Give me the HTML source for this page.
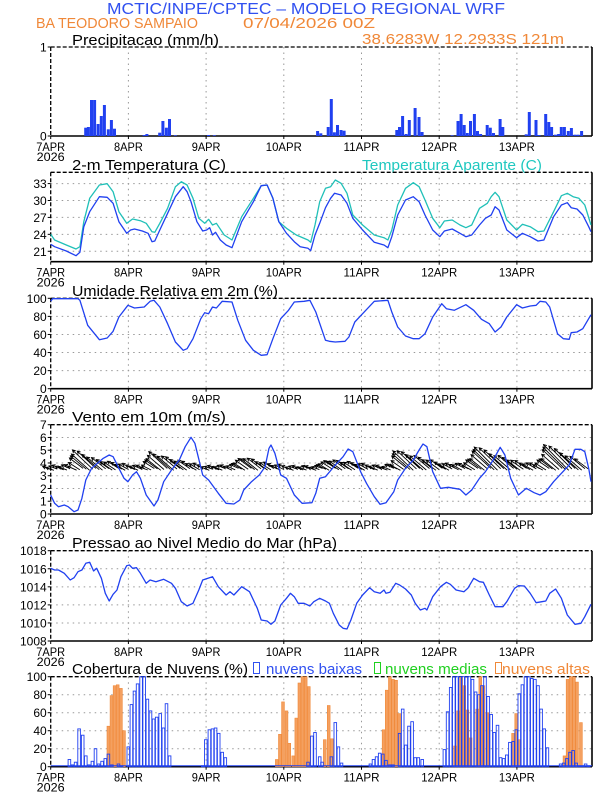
<!DOCTYPE html>
<html><head><meta charset="utf-8"><style>
html,body{margin:0;padding:0;background:#fff}
svg{display:block}
text{font-family:"Liberation Sans",sans-serif}
</style></head><body>
<svg id="s" width="612" height="792" xmlns="http://www.w3.org/2000/svg">
<text x="107" y="14" font-size="16" fill="#3050f0" textLength="398" lengthAdjust="spacingAndGlyphs">MCTIC/INPE/CPTEC – MODELO REGIONAL WRF</text>
<text x="36" y="28" font-size="15" fill="#f08838" textLength="162" lengthAdjust="spacingAndGlyphs">BA TEODORO SAMPAIO</text>
<text x="243" y="28" font-size="15" fill="#f08838" textLength="132" lengthAdjust="spacingAndGlyphs">07/04/2026 00Z</text>
<text x="72" y="45" font-size="15" fill="#000" textLength="147" lengthAdjust="spacingAndGlyphs">Precipitacao (mm/h)</text>
<text x="362" y="44" font-size="15" fill="#f08838" textLength="202" lengthAdjust="spacingAndGlyphs">38.6283W 12.2933S 121m</text>
<text x="72" y="170" font-size="15" fill="#000" textLength="154" lengthAdjust="spacingAndGlyphs">2-m Temperatura (C)</text>
<text x="362" y="170" font-size="15" fill="#20c8c0" textLength="180" lengthAdjust="spacingAndGlyphs">Temperatura Aparente (C)</text>
<text x="72" y="296" font-size="15" fill="#000" textLength="206" lengthAdjust="spacingAndGlyphs">Umidade Relativa em 2m (%)</text>
<text x="72" y="422" font-size="15" fill="#000" textLength="154" lengthAdjust="spacingAndGlyphs">Vento em 10m (m/s)</text>
<text x="72" y="548" font-size="15" fill="#000" textLength="265" lengthAdjust="spacingAndGlyphs">Pressao ao Nivel Medio do Mar (hPa)</text>
<text x="72" y="674" font-size="15" fill="#000" textLength="176" lengthAdjust="spacingAndGlyphs">Cobertura de Nuvens (%)</text>
<rect x="253.5" y="662.5" width="6" height="11" fill="none" stroke="#3050f0"/>
<text x="266" y="674" font-size="15" fill="#3050f0" textLength="96" lengthAdjust="spacingAndGlyphs">nuvens baixas</text>
<rect x="374.5" y="662.5" width="6" height="11" fill="none" stroke="#20d020"/>
<text x="385" y="674" font-size="15" fill="#20d020" textLength="102" lengthAdjust="spacingAndGlyphs">nuvens medias</text>
<rect x="495.5" y="662.5" width="6" height="11" fill="none" stroke="#f08838"/>
<text x="502" y="674" font-size="15" fill="#f08838" textLength="88" lengthAdjust="spacingAndGlyphs">nuvens altas</text>
</svg>
<script>
var S=document.getElementById('s'),NS='http://www.w3.org/2000/svg';
function el(t,a,txt){var e=document.createElementNS(NS,t);for(var k in a)e.setAttribute(k,a[k]);if(txt!=null)e.textContent=txt;S.appendChild(e);return e;}
var X0=50.7,X1=592,DAY=77.7,F=2.565;
var days=['7APR','8APR','9APR','10APR','11APR','12APR','13APR'];
function panel(top,bot,vmin,vmax,ticks,fmt){
  var sc=function(v){return bot-(v-vmin)/(vmax-vmin)*(bot-top);};
  for(var i=1;i<7;i++){var x=X0+i*DAY;el('line',{x1:x,y1:top,x2:x,y2:bot,stroke:'#999','stroke-dasharray':'1.5,4'});}
  ticks.forEach(function(v){var y=sc(v);
    if(v!=vmin&&v!=vmax)el('line',{x1:X0,y1:y,x2:X1,y2:y,stroke:'#999','stroke-dasharray':'1.5,4'});
    el('line',{x1:X0-3,y1:y,x2:X0,y2:y,stroke:'#000'});
    el('text',{x:X0-4,y:y+4.5,'font-size':12,'text-anchor':'end'},fmt?fmt(v):v);});
  el('line',{x1:X0,y1:top,x2:X1,y2:top,stroke:'#000','stroke-width':1.3,'stroke-dasharray':'4,2'});
  el('line',{x1:X0,y1:top,x2:X0,y2:bot,stroke:'#000','stroke-width':1.3,'stroke-dasharray':'4,2'});
  el('line',{x1:X1,y1:top,x2:X1,y2:bot,stroke:'#000','stroke-width':1.6});
  el('line',{x1:X0,y1:bot,x2:X1,y2:bot,stroke:'#000','stroke-width':1.6});
  for(var i=0;i<7;i++){var x=X0+i*DAY;el('line',{x1:x,y1:bot,x2:x,y2:bot+3,stroke:'#000'});
    el('text',{x:x,y:bot+15,'font-size':12,'text-anchor':'middle',textLength:days[i].length*7.2,lengthAdjust:'spacingAndGlyphs'},days[i]);}
  el('text',{x:X0,y:bot+25,'font-size':12,'text-anchor':'middle',textLength:28,lengthAdjust:'spacingAndGlyphs'},'2026');
}
function line(pts,off,col,w){var d='';pts.forEach(function(p,i){d+=(i?'L':'M')+(p[0]/F).toFixed(1)+' '+(off+p[1]/3).toFixed(1);});
  el('path',{d:d,fill:'none',stroke:col,'stroke-width':w||1.3,'stroke-linejoin':'round'});}
panel(47,136,0,1,[0,1]);
panel(172.3,261.7,19.15,35,[21,24,27,30,33]);
panel(298.3,388.7,0,100,[0,20,40,60,80,100]);
panel(424.7,514,0,7,[0,1,2,3,4,5,6,7]);
panel(550.7,641,1008,1018,[1008,1010,1012,1014,1016,1018]);
panel(676.7,766.7,0,100,[0,20,40,60,80,100]);
var pr=[[220,383],[227,381],[235,300],[243,300],[252,372],[260,348],[268,315],[278,388],[286,360],[294,386],[370,405],[377,402],[410,398],[418,363],[427,383],[435,357],[450,406],[535,405],[550,406],[815,393],[823,400],[842,381],[850,297],[858,397],[866,375],[875,390],[883,392],[1018,390],[1025,381],[1033,348],[1042,402],[1050,360],[1065,324],[1075,351],[1083,396],[1160,406],[1175,363],[1183,342],[1191,375],[1199,399],[1207,363],[1217,342],[1225,393],[1233,402],[1250,375],[1258,383],[1266,399],[1283,357],[1290,381],[1350,403],[1358,336],[1375,360],[1383,405],[1400,342],[1408,366],[1415,381],[1425,404],[1433,402],[1440,381],[1448,381],[1458,393],[1466,384],[1475,404],[1483,404],[1492,393]];
pr.forEach(function(p){var x=p[0]/F-1.6,y=p[1]/3;el('rect',{x:x.toFixed(1),y:y.toFixed(1),width:3,height:(136-y).toFixed(1),fill:'#2040f0'});});
line([[130,238],[140,255],[170,270],[195,282],[205,275],[215,200],[230,130],[255,90],[275,86],[290,110],[305,170],[325,205],[340,192],[360,197],[375,205],[390,230],[397,232],[410,205],[430,160],[450,95],[465,80],[480,90],[495,130],[510,190],[525,205],[535,193],[545,210],[555,205],[575,240],[595,255],[620,185],[650,130],[670,92],[685,90],[700,130],[715,200],[735,220],[760,240],[790,255],[797,262],[808,210],[820,140],[835,100],[848,95],[860,75],[875,85],[890,115],[905,180],[930,210],[960,240],[985,248],[995,255],[1005,225],[1020,150],[1040,100],[1060,83],[1075,95],[1090,135],[1110,190],[1128,218],[1140,198],[1160,195],[1180,210],[1195,218],[1210,210],[1230,160],[1250,145],[1260,125],[1270,112],[1280,125],[1300,195],[1325,225],[1340,208],[1360,215],[1380,230],[1395,228],[1420,170],[1440,122],[1455,115],[1470,125],[1485,130],[1500,150],[1516,210]],155,'#20c0b8');
line([[130,268],[140,275],[170,288],[195,302],[205,292],[215,215],[230,170],[255,125],[275,127],[290,145],[305,200],[325,235],[335,225],[345,222],[365,228],[380,235],[390,260],[397,258],[410,225],[430,175],[450,125],[470,95],[480,110],[490,140],[505,200],[520,228],[530,225],[538,218],[545,240],[553,232],[565,255],[580,270],[595,278],[620,200],[650,140],[670,92],[685,90],[700,130],[715,200],[735,235],[755,260],[770,275],[790,280],[797,287],[808,240],[820,205],[835,158],[848,130],[858,115],[875,120],[890,145],[905,190],[930,225],[960,262],[985,270],[995,278],[1005,245],[1020,180],[1040,135],[1060,125],[1075,140],[1090,180],[1110,225],[1128,245],[1140,228],[1160,222],[1180,235],[1195,245],[1210,240],[1230,210],[1245,190],[1260,180],[1270,155],[1280,165],[1300,225],[1325,248],[1340,235],[1360,245],[1380,258],[1395,255],[1420,185],[1440,150],[1455,143],[1465,158],[1480,162],[1495,180],[1510,215],[1516,230]],155,'#2040f0');
line([[130,58],[135,50],[200,50],[205,55],[225,130],[255,173],[275,168],[290,148],[305,105],[328,70],[345,78],[370,75],[385,58],[395,55],[410,75],[430,125],[450,180],[470,205],[480,200],[495,170],[515,110],[525,92],[535,95],[545,75],[555,78],[570,58],[595,60],[610,115],[630,175],[650,205],[670,220],[685,218],[700,170],[720,110],[740,85],[755,60],[780,58],[795,55],[810,90],[835,175],[845,178],[860,180],[885,178],[895,165],[910,120],[930,95],[960,58],[995,55],[1005,90],[1020,135],[1040,162],[1060,170],[1075,170],[1090,155],[1110,105],[1133,65],[1145,80],[1165,85],[1195,68],[1215,85],[1235,112],[1255,125],[1270,150],[1285,135],[1300,105],[1325,68],[1340,78],[1360,72],[1375,70],[1385,58],[1400,60],[1410,75],[1430,155],[1445,170],[1460,172],[1465,152],[1480,150],[1495,140],[1516,98]],282,'#2040f0');
(function(){
 var env=[[0,0.1],[8,0.2],[10,0.7],[13,1.4],[18,0.6],[24,0.3],[30,0.1],[33,0.6],[36,1.2],[42,0.6],[50,0.1],[58,0.2],[61,0.6],[64,0.8],[70,0.3],[76,0.1],[84,0.1],[86,0.4],[90,0.6],[96,0.4],[101,0.2],[104,0.1],[108,0.3],[112,1.4],[118,0.8],[124,0.3],[130,0.3],[134,0.8],[138,1.7],[142,1.0],[148,0.4],[152,0.3],[156,0.8],[160,1.9],[164,1.0],[167,0.5]];
 function amp(h){for(var i=1;i<env.length;i++){if(h<=env[i][0]){var a=env[i-1],b=env[i];return a[1]+(b[1]-a[1])*(h-a[0])/(b[0]-a[0]);}}return 0.5;}
 var upu=(514-424.7)/7, d='';
 for(var h=0;h<167;h+=1){
   var x=X0+h*DAY/24, base=514-3.5*upu+Math.sin(h*1.7)*1.0;
   var a=amp(h)*upu, ty=base-a-1.5, tx=x-(a*0.75+7);
   d+='M'+x.toFixed(1)+' '+base.toFixed(1)+'L'+tx.toFixed(1)+' '+ty.toFixed(1);
   var a2=Math.atan2(ty-base,tx-x);
   d+='M'+(tx-3.5*Math.cos(a2-0.5)).toFixed(1)+' '+(ty-3.5*Math.sin(a2-0.5)).toFixed(1)+'L'+tx.toFixed(1)+' '+ty.toFixed(1)+'L'+(tx-3.5*Math.cos(a2+0.5)).toFixed(1)+' '+(ty-3.5*Math.sin(a2+0.5)).toFixed(1);
 }
 el('path',{d:d,fill:'none',stroke:'#000','stroke-width':0.9});
})();
line([[130,255],[140,280],[150,290],[165,285],[175,290],[190,305],[200,300],[210,265],[220,210],[235,175],[250,160],[265,145],[280,135],[290,140],[305,175],[318,205],[328,215],[340,195],[350,185],[360,205],[375,255],[395,288],[405,270],[420,215],[440,180],[460,150],[475,110],[490,82],[500,100],[520,195],[535,210],[560,250],[580,280],[600,282],[615,270],[625,240],[645,215],[665,195],[680,170],[690,115],[695,105],[705,130],[720,195],[735,205],[755,255],[775,280],[800,278],[810,250],[820,205],[835,200],[860,165],[880,140],[893,117],[905,125],[925,185],[940,220],[960,260],[975,283],[990,278],[1000,262],[1010,245],[1020,210],[1040,175],[1060,150],[1075,120],[1085,102],[1095,110],[1110,185],[1130,235],[1150,232],[1180,238],[1195,255],[1210,240],[1230,205],[1245,185],[1265,150],[1283,112],[1295,135],[1310,205],[1330,255],[1350,235],[1370,248],[1385,255],[1400,245],[1420,215],[1440,190],[1460,165],[1475,118],[1490,118],[1500,125],[1510,175],[1516,215]],410,'#2040f0');
line([[130,100],[140,105],[150,105],[165,115],[180,135],[190,128],[200,110],[210,105],[220,85],[230,82],[240,108],[248,100],[260,130],[270,175],[280,198],[290,178],[300,165],[310,125],[325,92],[332,90],[340,100],[350,98],[360,115],[375,145],[385,135],[400,140],[420,133],[440,145],[450,160],[465,200],[480,213],[495,205],[510,165],[520,135],[545,125],[560,155],[580,180],[590,170],[600,180],[620,155],[640,170],[660,220],[670,255],[685,258],[695,268],[705,258],[720,210],[735,190],[745,175],[755,185],[765,205],[780,205],[795,213],[805,200],[820,190],[835,198],[845,205],[855,235],[870,270],[880,280],[890,282],[900,255],[915,205],[930,180],[948,158],[960,170],[975,175],[985,165],[990,175],[1000,172],[1015,145],[1025,150],[1040,162],[1055,180],[1065,205],[1078,225],[1090,220],[1095,225],[1110,185],[1130,155],[1145,142],[1155,148],[1170,165],[1190,170],[1200,160],[1215,130],[1230,140],[1240,142],[1255,180],[1270,215],[1290,215],[1300,200],[1320,160],[1330,152],[1345,153],[1360,175],[1375,203],[1390,200],[1400,198],[1410,175],[1425,162],[1440,190],[1455,240],[1475,268],[1490,265],[1500,245],[1516,208]],535,'#2040f0');
function cy(p){return 766.7-p*0.9;}
var hi=[[278,45],[286,79],[294,90],[302,91],[310,87],[318,40],[710,8],[718,36],[726,72],[735,62],[742,26],[752,12],[760,54],[768,93],[776,100],[784,100],[792,89],[833,30],[843,68],[851,31],[984,41],[992,85],[1000,100],[1008,97],[1016,96],[1024,59],[1167,23],[1175,62],[1183,100],[1191,90],[1199,63],[1207,32],[1224,64],[1232,100],[1240,90],[1250,60],[1316,37],[1324,59],[1332,30],[1448,12],[1456,97],[1464,100],[1472,100],[1480,94],[1490,49]];
hi.forEach(function(p){var x=p[0]/F-1.4;el('rect',{x:x.toFixed(1),y:cy(p[1]).toFixed(1),width:2.8,height:(p[1]*0.9).toFixed(1),fill:'#f4a060',stroke:'#f08838','stroke-width':0.6});});
var lo=[[178,8],[186,2],[194,5],[203,42],[212,35],[220,12],[228,2],[237,6],[245,20],[253,3],[262,6],[270,9],[278,14],[287,2],[304,3],[312,1],[329,22],[337,69],[345,84],[353,92],[362,100],[370,100],[378,75],[386,62],[394,53],[402,55],[411,59],[419,43],[427,70],[435,12],[520,1],[528,30],[537,41],[545,42],[553,43],[561,37],[570,16],[578,10],[790,5],[800,34],[808,38],[820,11],[826,5],[850,11],[860,49],[868,22],[876,4],[950,3],[958,8],[966,11],[974,15],[982,14],[990,7],[1000,2],[1008,2],[1025,37],[1033,64],[1041,24],[1049,45],[1057,50],[1065,10],[1073,10],[1083,8],[1140,19],[1148,61],[1156,88],[1164,100],[1172,100],[1180,100],[1188,100],[1196,100],[1204,100],[1212,97],[1220,83],[1228,80],[1236,90],[1244,100],[1252,78],[1260,58],[1268,38],[1276,46],[1284,10],[1292,9],[1300,13],[1308,27],[1316,28],[1324,41],[1332,81],[1340,91],[1348,100],[1356,100],[1364,98],[1372,97],[1380,90],[1388,64],[1396,42],[1404,21],[1438,3],[1446,4],[1454,9],[1462,16],[1470,18],[1478,4],[1486,1],[1494,1],[1502,3],[1510,1]];
lo.forEach(function(p){var x=p[0]/F-1.3;el('rect',{x:x.toFixed(1),y:cy(p[1]).toFixed(1),width:2.6,height:(p[1]*0.9).toFixed(1),fill:'none',stroke:'#2040f0','stroke-width':0.9});});
el('line',{x1:X0,y1:765.8,x2:X1,y2:765.8,stroke:'#2040f0','stroke-width':1});
</script>
</body></html>
